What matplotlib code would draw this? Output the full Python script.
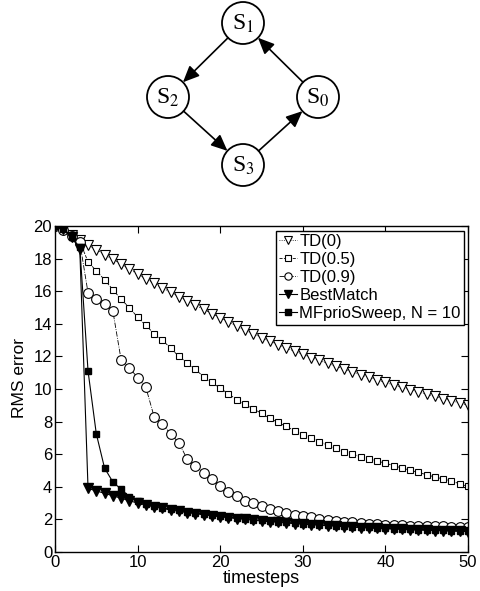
import numpy as np
import matplotlib.pyplot as plt
from matplotlib.patches import Circle, FancyArrowPatch

plt.rcParams['font.family'] = ['Liberation Sans', 'DejaVu Sans']

# Data
t = np.arange(0, 51)

td0 = [20.0, 19.75, 19.45, 19.15, 18.85, 18.55, 18.25, 17.95, 17.65, 17.35,
       17.05, 16.75, 16.48, 16.2, 15.93, 15.66, 15.4, 15.14, 14.88, 14.62,
       14.36, 14.11, 13.86, 13.62, 13.38, 13.15, 12.93, 12.72, 12.52, 12.32,
       12.12, 11.93, 11.75, 11.57, 11.39, 11.22, 11.05, 10.88, 10.72, 10.56,
       10.4, 10.25, 10.1, 9.96, 9.82, 9.68, 9.54, 9.41, 9.28, 9.15, 9.0]

td05 = [20.0, 19.75, 19.45, 19.05, 17.8, 17.25, 16.7, 16.1, 15.5, 15.0,
        14.4, 13.9, 13.4, 13.0, 12.5, 12.0, 11.6, 11.2, 10.75, 10.4,
        10.05, 9.7, 9.35, 9.05, 8.8, 8.5, 8.2, 7.95, 7.7, 7.45,
        7.2, 7.0, 6.77, 6.56, 6.36, 6.16, 6.0, 5.85, 5.72, 5.58,
        5.45, 5.3, 5.15, 5.02, 4.88, 4.74, 4.6, 4.48, 4.36, 4.18, 4.02]

td09 = [20.0, 19.75, 19.4, 19.0, 15.9, 15.5, 15.2, 14.8, 11.8, 11.3,
        10.7, 10.1, 8.3, 7.85, 7.25, 6.7, 5.7, 5.3, 4.87, 4.48,
        4.05, 3.7, 3.45, 3.15, 3.0, 2.82, 2.66, 2.52, 2.4, 2.3,
        2.2, 2.12, 2.05, 1.98, 1.92, 1.87, 1.82, 1.78, 1.74, 1.71,
        1.68, 1.66, 1.64, 1.62, 1.6, 1.59, 1.58, 1.57, 1.56, 1.55, 1.55]

best = [20.0, 19.8, 19.3, 18.6, 3.9, 3.75, 3.6, 3.45, 3.3, 3.15,
        3.0, 2.88, 2.77, 2.67, 2.58, 2.5, 2.42, 2.35, 2.28, 2.22,
        2.16, 2.1, 2.05, 2.0, 1.95, 1.9, 1.86, 1.82, 1.78, 1.74,
        1.7, 1.67, 1.64, 1.61, 1.58, 1.55, 1.52, 1.5, 1.47, 1.45,
        1.43, 1.41, 1.39, 1.37, 1.35, 1.33, 1.31, 1.3, 1.28, 1.27, 1.25]

mf = [20.0, 19.8, 19.3, 18.7, 11.1, 7.25, 5.15, 4.3, 3.85, 3.4,
      3.1, 2.95, 2.82, 2.72, 2.63, 2.55, 2.47, 2.4, 2.33, 2.27,
      2.21, 2.15, 2.09, 2.04, 1.99, 1.94, 1.9, 1.86, 1.82, 1.78,
      1.74, 1.71, 1.68, 1.65, 1.62, 1.59, 1.56, 1.53, 1.51, 1.48,
      1.46, 1.44, 1.42, 1.4, 1.38, 1.36, 1.34, 1.33, 1.31, 1.3, 1.28]

states = ['S$_1$', 'S$_2$', 'S$_0$', 'S$_3$']

fig = plt.figure(figsize=(4.8, 5.91), dpi=100)

# --- state diagram (pixel coordinates) ---
axd = fig.add_axes([0, 391 / 591, 1, 200 / 591])
axd.set_xlim(0, 480)
axd.set_ylim(200, 0)
axd.axis('off')
centers = {'S$_1$': (243, 23), 'S$_2$': (168, 97), 'S$_0$': (318, 97), 'S$_3$': (243, 165)}
rad = 21
for name in states:
    cx, cy = centers[name]
    axd.add_patch(Circle((cx, cy), rad, facecolor='white', edgecolor='black', lw=1.3))
    axd.text(cx, cy + 1, name, ha='center', va='center', fontsize=17,
             family='Liberation Serif', math_fontfamily='stix')

edges = [('S$_0$', 'S$_1$'), ('S$_1$', 'S$_2$'), ('S$_2$', 'S$_3$'), ('S$_3$', 'S$_0$')]
for a, b in edges:
    (x1, y1), (x2, y2) = centers[a], centers[b]
    d = np.hypot(x2 - x1, y2 - y1)
    ux, uy = (x2 - x1) / d, (y2 - y1) / d
    p1 = (x1 + ux * rad, y1 + uy * rad)
    p2 = (x2 - ux * rad, y2 - uy * rad)
    axd.add_patch(FancyArrowPatch(p1, p2, arrowstyle='-|>,head_length=0.45,head_width=0.2',
                                  mutation_scale=22, color='black', lw=1.2,
                                  shrinkA=0, shrinkB=0))

# --- RMS error plot ---
ax = fig.add_axes([55 / 480, 39 / 591, 413 / 480, 326 / 591])
ax.plot(t, td0, linestyle=':', color='black', lw=0.6, marker='v', ms=7,
        mfc='white', mec='black', mew=0.8, label='TD(0)')
ax.plot(t, td05, linestyle='--', color='black', lw=0.6, marker='s', ms=5,
        mfc='white', mec='black', mew=0.8, label='TD(0.5)')
ax.plot(t, td09, linestyle='-.', color='black', lw=0.6, marker='o', ms=7,
        mfc='white', mec='black', mew=0.8, label='TD(0.9)')
ax.plot(t, best, linestyle='-', color='black', lw=0.8, marker='v', ms=7.5,
        mfc='black', mec='black', label='BestMatch')
ax.plot(t, mf, linestyle='-', color='black', lw=0.8, marker='s', ms=5,
        mfc='black', mec='black', label='MFprioSweep, N = 10')

ax.set_xlim(0, 50)
ax.set_ylim(0, 20)
ax.set_xticks(range(0, 51, 10))
ax.set_yticks(range(0, 21, 2))
ax.tick_params(direction='in', top=True, right=True, length=5, width=0.8,
               labelsize=12, pad=2)
for s in ax.spines.values():
    s.set_linewidth(1.0)
ax.set_xlabel('timesteps', fontsize=13, labelpad=0)
ax.set_ylabel('RMS error', fontsize=12.5)
ax.yaxis.set_label_coords(-0.068, 0.535)

leg = ax.legend(loc='upper right', bbox_to_anchor=(0.99, 0.985), fontsize=12,
                fancybox=False, edgecolor='black', framealpha=1,
                handlelength=1.1, handletextpad=0.1, labelspacing=0.18,
                borderpad=0.2, borderaxespad=0, markerscale=0.75)
leg.get_frame().set_linewidth(1.0)

fig.savefig('out.png', dpi=100)
